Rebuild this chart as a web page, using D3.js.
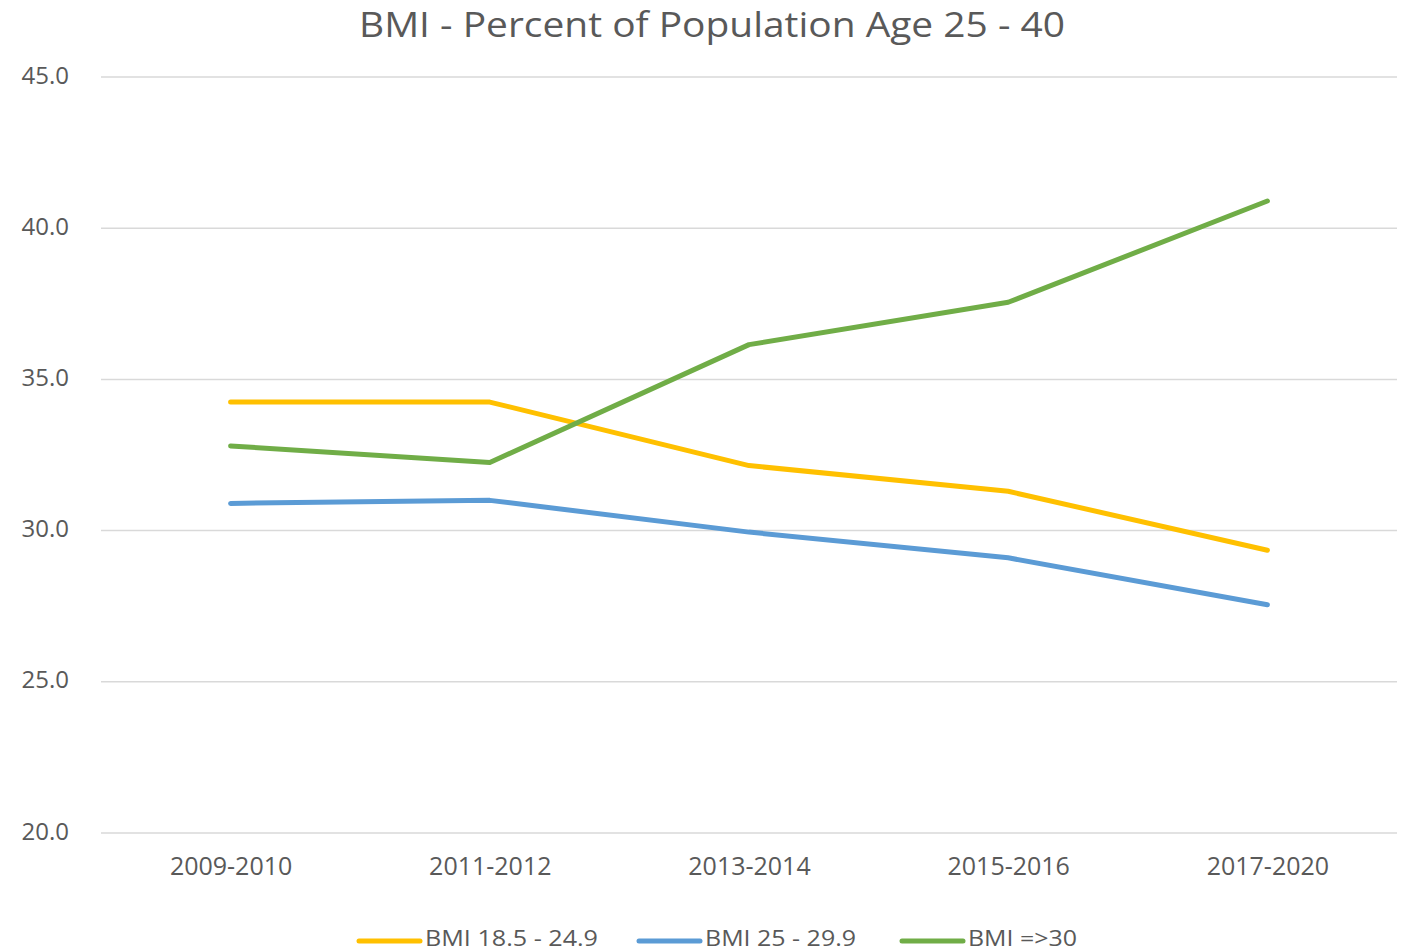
<!DOCTYPE html>
<html>
<head>
<meta charset="utf-8">
<script src="https://cdn.jsdelivr.net/npm/d3@7"></script>
<style>
  html, body { margin: 0; padding: 0; background: #fff; }
  svg { display: block; }
  text { font-family: "Open Sans", "Noto Sans", sans-serif; fill: #595959; }
</style>
</head>
<body>
<svg id="chart" width="1404" height="952"></svg>
<script>
// Survey periods and percent of population (age 25–40) by BMI group
const periods = ["2009-2010", "2011-2012", "2013-2014", "2015-2016", "2017-2020"];
const bmiNormal = [34.25, 34.25, 32.15, 31.3, 29.35];
const bmiOverweight = [30.9, 31.0, 29.95, 29.1, 27.55];
const bmiObese = [32.8, 32.25, 36.15, 37.55, 40.9];
const seriesNames = ["BMI 18.5 - 24.9", "BMI 25 - 29.9", "BMI =>30"];
const yTicks = [20, 25, 30, 35, 40, 45];

const series = [
  { name: seriesNames[0], values: bmiNormal, color: "#FFC000" },
  { name: seriesNames[1], values: bmiOverweight, color: "#5B9BD5" },
  { name: seriesNames[2], values: bmiObese, color: "#70AD47" }
];

const svg = d3.select("#chart");
const plot = { left: 101, right: 1397, top: 77, bottom: 833 };

const x = d3.scalePoint()
  .domain(periods)
  .range([plot.left, plot.right])
  .padding(0.5);

const y = d3.scaleLinear()
  .domain([20, 45])
  .range([plot.bottom, plot.top]);

// Title
svg.append("text")
  .attr("x", 712)
  .attr("y", 37)
  .attr("text-anchor", "middle")
  .attr("font-size", 35)
  .attr("textLength", 706)
  .attr("lengthAdjust", "spacingAndGlyphs")
  .text("BMI - Percent of Population Age 25 - 40");

// Horizontal gridlines
svg.append("g")
  .selectAll("line")
  .data(yTicks)
  .join("line")
  .attr("x1", plot.left)
  .attr("x2", plot.right)
  .attr("y1", d => y(d))
  .attr("y2", d => y(d))
  .attr("stroke", "#d9d9d9")
  .attr("stroke-width", 1.5);

// Y axis labels
const yAxis = d3.axisLeft(y)
  .tickValues(yTicks)
  .tickFormat(d3.format(".1f"))
  .tickSize(0)
  .tickPadding(0);

svg.append("g")
  .attr("transform", `translate(69,0)`)
  .call(yAxis)
  .call(g => g.select(".domain").remove())
  .call(g => g.selectAll("text")
    .attr("font-size", 24)
    .attr("font-family", null)
    .attr("fill", "#595959")
    .attr("dy", "0.25em"));

// X axis labels
const xAxis = d3.axisBottom(x).tickSize(0).tickPadding(0);
svg.append("g")
  .attr("transform", `translate(0,860)`)
  .call(xAxis)
  .call(g => g.select(".domain").remove())
  .call(g => g.selectAll("text")
    .attr("font-size", 25)
    .attr("font-family", null)
    .attr("fill", "#595959")
    .attr("dy", "0.6em"));

// Lines
const line = d3.line()
  .x((d, i) => x(periods[i]))
  .y(d => y(d));

svg.append("g")
  .selectAll("path")
  .data(series)
  .join("path")
  .attr("d", d => line(d.values))
  .attr("fill", "none")
  .attr("stroke", d => d.color)
  .attr("stroke-width", 5)
  .attr("stroke-linecap", "round")
  .attr("stroke-linejoin", "round");

// Legend
const legendX = [359, 639, 902];
const legendW = [173, 151, 109];
const legend = svg.append("g")
  .selectAll("g")
  .data(series)
  .join("g")
  .attr("transform", (d, i) => `translate(${legendX[i]},941)`);

legend.append("line")
  .attr("x1", 0)
  .attr("x2", 61)
  .attr("y1", 0)
  .attr("y2", 0)
  .attr("stroke", d => d.color)
  .attr("stroke-width", 5)
  .attr("stroke-linecap", "round");

legend.append("text")
  .attr("x", 66)
  .attr("y", 5)
  .attr("font-size", 22)
  .attr("textLength", (d, i) => legendW[i])
  .attr("lengthAdjust", "spacingAndGlyphs")
  .text(d => d.name);
</script>
</body>
</html>
